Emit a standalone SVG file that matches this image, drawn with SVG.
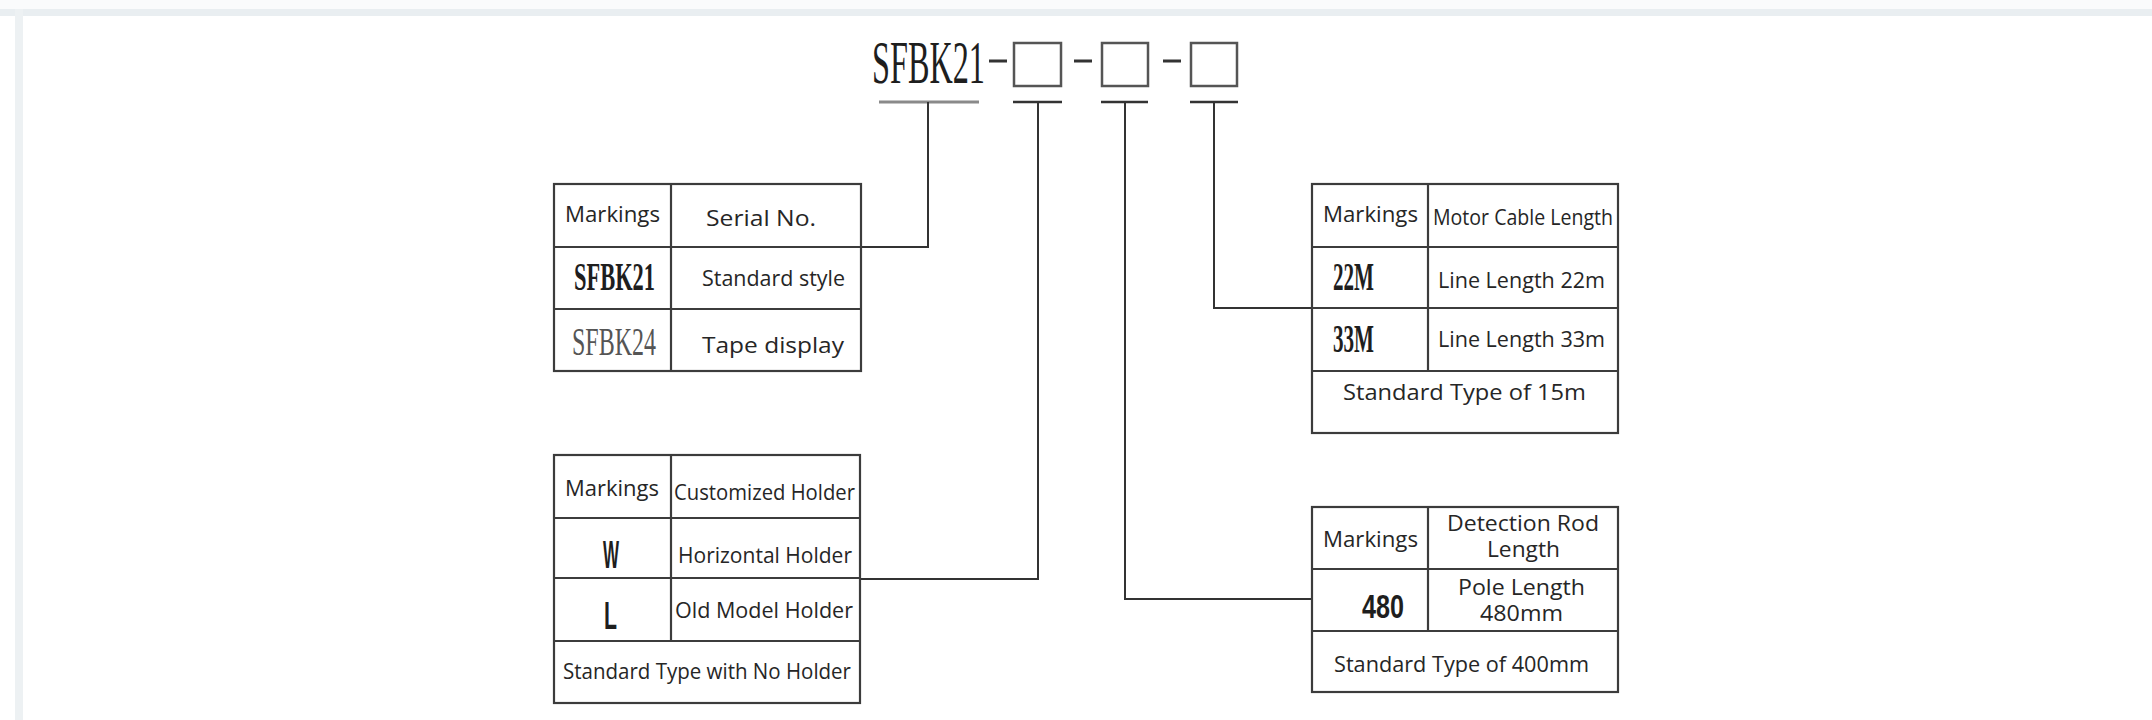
<svg xmlns="http://www.w3.org/2000/svg" width="2152" height="720" viewBox="0 0 2152 720">
<style>
.t{font-family:"Open Sans","Noto Sans","Liberation Sans",sans-serif;font-size:22px;fill:#262626}
.sb{font-family:"Liberation Serif","DejaVu Serif",serif;font-weight:bold;fill:#1e1e1e}
.sr{font-family:"Liberation Serif","DejaVu Serif",serif;fill:#555}
.nb{font-family:"Liberation Sans","DejaVu Sans",sans-serif;font-weight:bold;fill:#1e1e1e}
.grid{fill:none;stroke:#3c3c3c;stroke-width:2.2}
.ln{stroke:#3c3c3c;stroke-width:2.2;fill:none}
.con{fill:none;stroke:#333;stroke-width:2}
.box{fill:none;stroke:#555;stroke-width:2.5}
</style>
<rect x="0" y="0" width="2152" height="720" fill="#ffffff"/>
<rect x="0" y="0" width="2152" height="9" fill="#fafbfc"/>
<rect x="0" y="9" width="2152" height="7" fill="#e9eef1"/>
<rect x="15" y="9" width="8" height="711" fill="#edf1f3"/>

<g id="title">
<text class="sr" x="872" y="83" font-size="62" textLength="113" lengthAdjust="spacingAndGlyphs" style="fill:#1e1e1e">SFBK21</text>
<rect x="989" y="59.5" width="18" height="3" fill="#333"/>
<rect class="box" x="1014" y="43" width="47" height="43"/>
<rect x="1074" y="59.5" width="18" height="3" fill="#333"/>
<rect class="box" x="1102" y="43" width="46" height="43"/>
<rect x="1163" y="59.5" width="18" height="3" fill="#333"/>
<rect class="box" x="1191" y="43" width="46" height="43"/>
<line x1="879" y1="102" x2="979" y2="102" stroke="#8a8a8a" stroke-width="3"/>
<line x1="1013" y1="102" x2="1062" y2="102" stroke="#333" stroke-width="2.5"/>
<line x1="1101" y1="102" x2="1148" y2="102" stroke="#333" stroke-width="2.5"/>
<line x1="1190" y1="102" x2="1238" y2="102" stroke="#333" stroke-width="2.5"/>
</g>

<g id="connectors">
<polyline class="con" points="928,102 928,247 861,247"/>
<polyline class="con" points="1038,102 1038,579 860,579"/>
<polyline class="con" points="1125,102 1125,599 1312,599"/>
<polyline class="con" points="1214,102 1214,308 1312,308"/>
</g>

<g id="table-serial">
<rect class="grid" x="554" y="184" width="307" height="187"/>
<line class="ln" x1="554" y1="247" x2="861" y2="247"/>
<line class="ln" x1="554" y1="309" x2="861" y2="309"/>
<line class="ln" x1="671" y1="184" x2="671" y2="371"/>
<text class="t" x="565" y="222" textLength="95" lengthAdjust="spacingAndGlyphs">Markings</text>
<text class="t" x="706" y="226" textLength="110" lengthAdjust="spacingAndGlyphs">Serial No.</text>
<text class="sb" x="574" y="290" font-size="39" textLength="81" lengthAdjust="spacingAndGlyphs">SFBK21</text>
<text class="t" x="702" y="286" textLength="143" lengthAdjust="spacingAndGlyphs">Standard style</text>
<text class="sr" x="572" y="355" font-size="40" textLength="84" lengthAdjust="spacingAndGlyphs">SFBK24</text>
<text class="t" x="702" y="353" font-size="22" textLength="142" lengthAdjust="spacingAndGlyphs">Tape display</text>
</g>

<g id="table-holder">
<rect class="grid" x="554" y="455" width="306" height="248"/>
<line class="ln" x1="554" y1="518" x2="860" y2="518"/>
<line class="ln" x1="554" y1="578" x2="860" y2="578"/>
<line class="ln" x1="554" y1="641" x2="860" y2="641"/>
<line class="ln" x1="671" y1="455" x2="671" y2="641"/>
<text class="t" x="565" y="496" textLength="94" lengthAdjust="spacingAndGlyphs">Markings</text>
<text class="t" x="674" y="500" textLength="181" lengthAdjust="spacingAndGlyphs">Customized Holder</text>
<text class="nb" x="603" y="568" font-size="38" textLength="16" lengthAdjust="spacingAndGlyphs">W</text>
<text class="t" x="678" y="563" textLength="174" lengthAdjust="spacingAndGlyphs">Horizontal Holder</text>
<text class="nb" x="604" y="629" font-size="38" textLength="13" lengthAdjust="spacingAndGlyphs">L</text>
<text class="t" x="675" y="618" textLength="178" lengthAdjust="spacingAndGlyphs">Old Model Holder</text>
<text class="t" x="563" y="679" textLength="288" lengthAdjust="spacingAndGlyphs">Standard Type with No Holder</text>
</g>

<g id="table-cable">
<rect class="grid" x="1312" y="184" width="306" height="249"/>
<line class="ln" x1="1312" y1="247" x2="1618" y2="247"/>
<line class="ln" x1="1312" y1="308" x2="1618" y2="308"/>
<line class="ln" x1="1312" y1="371" x2="1618" y2="371"/>
<line class="ln" x1="1428" y1="184" x2="1428" y2="371"/>
<text class="t" x="1323" y="222" textLength="95" lengthAdjust="spacingAndGlyphs">Markings</text>
<text class="t" x="1433" y="225" font-size="21" textLength="180" lengthAdjust="spacingAndGlyphs">Motor Cable Length</text>
<text class="sb" x="1333" y="290" font-size="40" textLength="41" lengthAdjust="spacingAndGlyphs">22M</text>
<text class="t" x="1438" y="288" textLength="167" lengthAdjust="spacingAndGlyphs">Line Length 22m</text>
<text class="sb" x="1333" y="352" font-size="40" textLength="41" lengthAdjust="spacingAndGlyphs">33M</text>
<text class="t" x="1438" y="347" textLength="167" lengthAdjust="spacingAndGlyphs">Line Length 33m</text>
<text class="t" x="1343" y="400" textLength="243" lengthAdjust="spacingAndGlyphs">Standard Type of 15m</text>
</g>

<g id="table-rod">
<rect class="grid" x="1312" y="507" width="306" height="185"/>
<line class="ln" x1="1312" y1="569" x2="1618" y2="569"/>
<line class="ln" x1="1312" y1="631" x2="1618" y2="631"/>
<line class="ln" x1="1428" y1="507" x2="1428" y2="631"/>
<text class="t" x="1323" y="547" textLength="95" lengthAdjust="spacingAndGlyphs">Markings</text>
<text class="t" x="1447" y="531" font-size="20" textLength="152" lengthAdjust="spacingAndGlyphs">Detection Rod</text>
<text class="t" x="1487" y="557" font-size="20" textLength="73" lengthAdjust="spacingAndGlyphs">Length</text>
<text class="nb" x="1362" y="618" font-size="34" textLength="42" lengthAdjust="spacingAndGlyphs">480</text>
<text class="t" x="1458" y="595" font-size="19" textLength="127" lengthAdjust="spacingAndGlyphs">Pole Length</text>
<text class="t" x="1480" y="621" font-size="19" textLength="83" lengthAdjust="spacingAndGlyphs">480mm</text>
<text class="t" x="1334" y="672" textLength="255" lengthAdjust="spacingAndGlyphs">Standard Type of 400mm</text>
</g>
</svg>
